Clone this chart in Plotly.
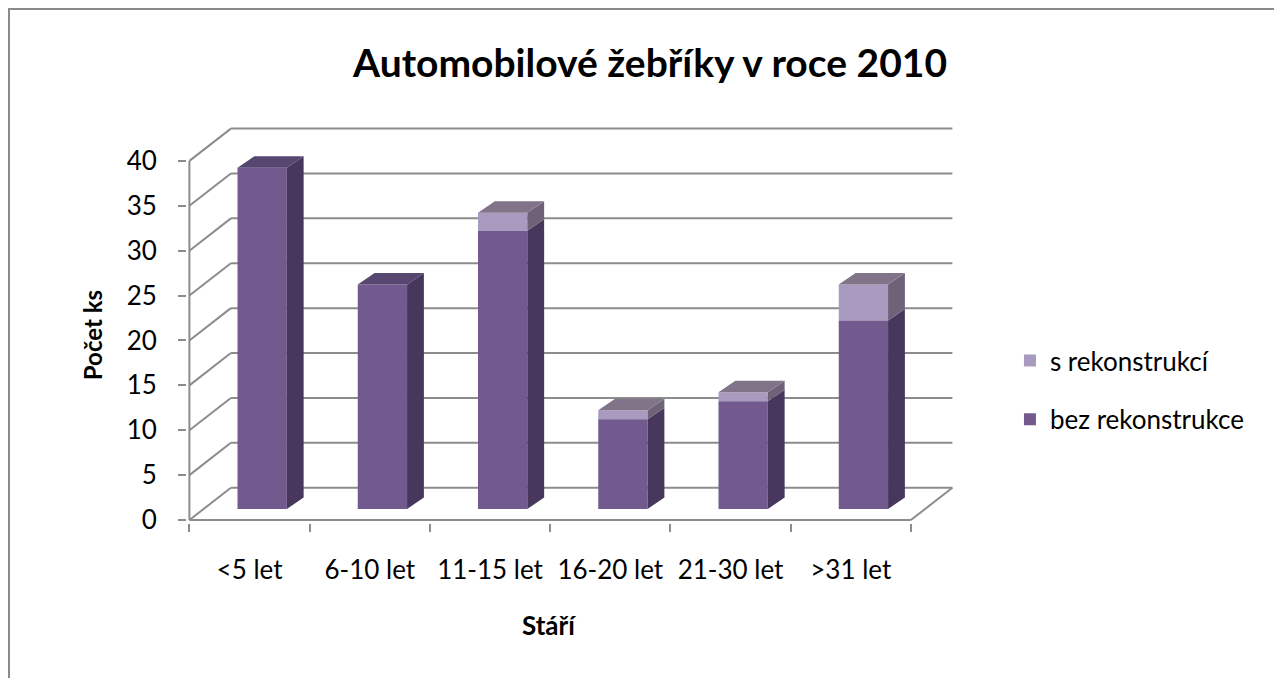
import plotly.graph_objects as go

# ---------------- data ----------------
categories = ["<5 let", "6-10 let", "11-15 let", "16-20 let", "21-30 let", ">31 let"]
bez_rekonstrukce = [38, 25, 31, 10, 12, 21]
s_rekonstrukci = [0, 0, 2, 1, 1, 4]
y_ticks = [0, 5, 10, 15, 20, 25, 30, 35, 40]

# ---------------- style ----------------
FONT = "Lato"
C_BEZ = dict(front="#725A8F", side="#48375C", top="#574670")
C_S = dict(front="#A99BBF", side="#6E6279", top="#817489")
GRID = "#8C8C8C"
BAR_OFF = 0.105   # bars sit mid-depth, shifted right of the category centre
BAR_W = 0.41
BASE = 1.23       # mid-depth vertical shift (axis units)
DDX, DDY = 0.14, 1.28        # bar depth projection
WALL_DX, WALL_DY = 0.345, 3.6  # back-wall projection

n = len(categories)
xs = [i + BAR_OFF for i in range(n)]
x_lo, x_hi = -0.5, n - 0.5

fig = go.Figure()
fig.add_trace(go.Bar(
    x=xs, y=s_rekonstrukci, base=[BASE + b for b in bez_rekonstrukce], width=BAR_W,
    name="s rekonstrukcí", legendgroup="s",
    marker=dict(color=C_S["front"], line=dict(width=0)),
))
fig.add_trace(go.Bar(
    x=xs, y=bez_rekonstrukce, base=[BASE] * n, width=BAR_W,
    name="bez rekonstrukce", legendgroup="bez",
    marker=dict(color=C_BEZ["front"], line=dict(width=0)),
))

shapes = []
# back wall gridlines + left wall diagonals
for v in y_ticks:
    shapes.append(dict(type="line", xref="x", yref="y", layer="below",
                       x0=x_lo + WALL_DX, x1=x_hi + WALL_DX, y0=v + WALL_DY, y1=v + WALL_DY,
                       line=dict(color=GRID, width=2)))
    shapes.append(dict(type="line", xref="x", yref="y", layer="below",
                       x0=x_lo, x1=x_lo + WALL_DX, y0=v, y1=v + WALL_DY,
                       line=dict(color=GRID, width=2)))
# floor front edge & right edge, front vertical axis
shapes.append(dict(type="line", xref="x", yref="y", layer="below",
                   x0=x_lo, x1=x_hi, y0=0, y1=0, line=dict(color=GRID, width=2)))
shapes.append(dict(type="line", xref="x", yref="y", layer="below",
                   x0=x_hi, x1=x_hi + WALL_DX, y0=0, y1=WALL_DY, line=dict(color=GRID, width=2)))
shapes.append(dict(type="line", xref="x", yref="y", layer="below",
                   x0=x_lo, x1=x_lo, y0=0, y1=y_ticks[-1], line=dict(color=GRID, width=2)))


def poly(pts, color):
    d = "M " + " L ".join(f"{px},{py}" for px, py in pts) + " Z"
    return dict(type="path", xref="x", yref="y", layer="above", path=d,
                fillcolor=color, line=dict(width=0))


# 3D sides and tops of bars, computed from data
for i in range(n):
    xl = xs[i] - BAR_W / 2
    xr = xs[i] + BAR_W / 2
    segs = [(BASE, BASE + bez_rekonstrukce[i], C_BEZ)]
    if s_rekonstrukci[i] > 0:
        segs.append((BASE + bez_rekonstrukce[i],
                     BASE + bez_rekonstrukce[i] + s_rekonstrukci[i], C_S))
    for y0, y1, c in segs:
        shapes.append(poly([(xr, y0), (xr + DDX, y0 + DDY), (xr + DDX, y1 + DDY), (xr, y1)], c["side"]))
    y_top, c_top = segs[-1][1], segs[-1][2]
    shapes.append(poly([(xl, y_top), (xl + DDX, y_top + DDY), (xr + DDX, y_top + DDY), (xr, y_top)],
                       c_top["top"]))

# outer chart border (top and left)
shapes.append(dict(type="path", xref="paper", yref="paper", layer="above",
                   path="M -0.2306,-0.6 L -0.2306,1.2915 L 1.6,1.2915",
                   line=dict(color="#8A8A8A", width=2)))

annotations = [
    dict(text="Stáří", xref="paper", yref="paper", x=0.469, y=-0.256, showarrow=False,
         xanchor="center", yanchor="middle",
         font=dict(family=FONT, size=26, color="#000000", weight="bold")),
    dict(text="Počet ks", xref="paper", yref="paper", x=-0.123, y=0.472, showarrow=False,
         xanchor="center", yanchor="middle", textangle=-90,
         font=dict(family=FONT, size=24, color="#000000", weight="bold")),
]

fig.update_layout(
    width=1282, height=678,
    margin=dict(l=179, r=331, t=117, b=163),
    paper_bgcolor="white", plot_bgcolor="white",
    barmode="overlay",
    title=dict(text="Automobilové žebříky v roce 2010", x=0.5008, y=0.918,
               xanchor="center", yanchor="middle",
               font=dict(family=FONT, size=39, color="#000000", weight="bold")),
    xaxis=dict(range=[-0.52, 5.9], tickmode="array", tickvals=list(range(n)), ticktext=categories,
               showgrid=False, zeroline=False, showline=False, ticks="", ticklen=0,
               ticklabelstandoff=29,
               tickfont=dict(family=FONT, size=26, color="#000000"),
               minor=dict(tickmode="array", tickvals=[i - 0.5 for i in range(n + 1)],
                          ticks="outside", ticklen=8, tickcolor=GRID, tickwidth=2, showgrid=False)),
    yaxis=dict(range=[-0.33, 44.0], tickmode="array", tickvals=y_ticks,
               showgrid=False, zeroline=False, showline=False,
               ticks="outside", ticklen=8, tickcolor=GRID, tickwidth=2,
               ticklabelstandoff=16,
               tickfont=dict(family=FONT, size=26, color="#000000")),
    legend=dict(x=1.066, y=0.334, xanchor="left", yanchor="middle",
                traceorder="grouped", tracegroupgap=22,
                font=dict(family=FONT, size=26, color="#000000"),
                bgcolor="rgba(0,0,0,0)"),
    shapes=shapes, annotations=annotations,
    showlegend=True,
)

fig.write_html("out.html")
